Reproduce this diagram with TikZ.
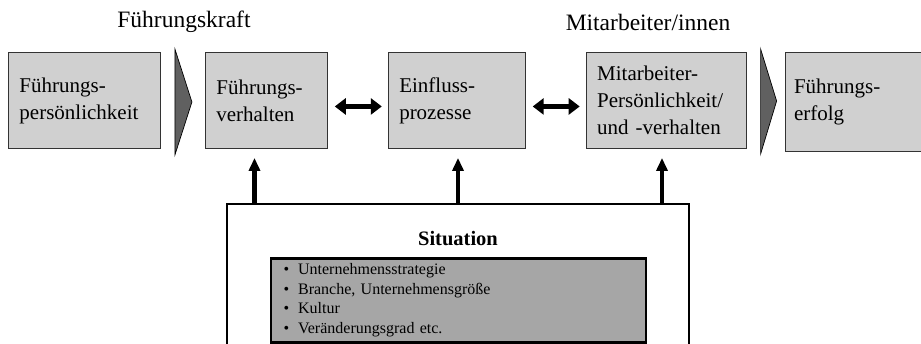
\documentclass[tikz,border=0pt]{standalone}
\usepackage{fontspec}
\setmainfont{Liberation Serif}
\usetikzlibrary{arrows.meta,positioning}
\definecolor{boxgray}{RGB}{208,208,208}
\definecolor{listgray}{RGB}{166,166,166}
\definecolor{chevgray}{RGB}{96,96,96}

\begin{document}
\begin{tikzpicture}[x=1pt,y=-1pt]
  \tikzstyle{box}=[draw=black!80,fill=boxgray,line width=0.9pt,minimum height=96pt,
    inner sep=11pt,align=left,font=\fontsize{21}{27}\selectfont]
  \tikzstyle{chev}=[draw=black,fill=chevgray,line width=0.7pt]
  \tikzstyle{twoway}=[{Triangle[length=11pt,width=16pt]}-{Triangle[length=11pt,width=16pt]},
    line width=5.5pt,shorten <=7pt,shorten >=6pt]
  \tikzstyle{upward}=[-{Triangle[length=13pt,width=11pt]},line width=4.5pt,shorten >=9pt]
  \tikzstyle{title}=[font=\fontsize{23.5}{28}\selectfont]
  \clip (0,0) rectangle (921,343);
  % top row
  \node[box,minimum width=152pt,text width=130pt,anchor=north west] (persoenl) at (8,52)
    {Führungs-\\persönlichkeit};
  \node[box,minimum width=122pt,text width=100pt,right=44pt of persoenl] (verhalten)
    {Führungs-\\verhalten};
  \node[box,minimum width=137pt,text width=115pt,right=60pt of verhalten] (prozesse)
    {Einfluss-\\prozesse};
  \node[box,minimum width=160pt,text width=138pt,right=60pt of prozesse] (mitarb)
    {Mitarbeiter-\\Persönlichkeit/\\und -verhalten};
  \node[box,minimum width=139pt,minimum height=99pt,inner sep=9pt,text width=121pt,
    right=38pt of mitarb.north east,anchor=north west] (erfolg) {Führungs-\\erfolg};
  \node[title] (kraft) at (184,22) {Führungskraft};
  \node[title] (mitinnen) at (648,22) {Mitarbeiter/innen};
  % chevrons
  \draw[chev] ([xshift=14pt,yshift=3pt]persoenl.north east) -- ++(17,53) -- ++(-17,53) -- cycle;
  \draw[chev] ([xshift=14pt,yshift=3pt]mitarb.north east) -- ++(16,52) -- ++(-16,53) -- cycle;
  % situation
  \node[draw=black,line width=2pt,fill=white,minimum width=462pt,minimum height=180pt,
    anchor=north] (situation) at (458,203) {};
  \node[font=\fontsize{20.5}{24}\bfseries\selectfont,below=28pt of situation.north,
    inner sep=0pt] (sitlabel) {Situation};
  \node[draw=black,line width=2.5pt,fill=listgray,minimum width=375pt,minimum height=84pt,
    text width=350pt,inner sep=0pt,align=left,anchor=north,font=\fontsize{16}{19.6}\selectfont]
    (faktoren) at (458.5,257)
    {\textbullet\hspace{9pt}Unternehmensstrategie\\
     \textbullet\hspace{9pt}Branche, Unternehmensgröße\\
     \textbullet\hspace{9pt}Kultur\\
     \textbullet\hspace{9pt}Veränderungsgrad etc.};
  % connectors
  \draw[twoway] ([yshift=-6pt]verhalten.east) -- ([yshift=-6pt]prozesse.west);
  \draw[twoway] ([yshift=-6pt]prozesse.east) -- ([yshift=-6pt]mitarb.west);
  \coordinate (s1) at ([xshift=-203.5pt]situation.north);
  \coordinate (s2) at (situation.north);
  \coordinate (s3) at ([xshift=204pt]situation.north);
  \draw[upward] (s1) -- (s1 |- verhalten.south);
  \draw[upward] (s2) -- (s2 |- prozesse.south);
  \draw[upward] (s3) -- (s3 |- mitarb.south);
\end{tikzpicture}
\end{document}
